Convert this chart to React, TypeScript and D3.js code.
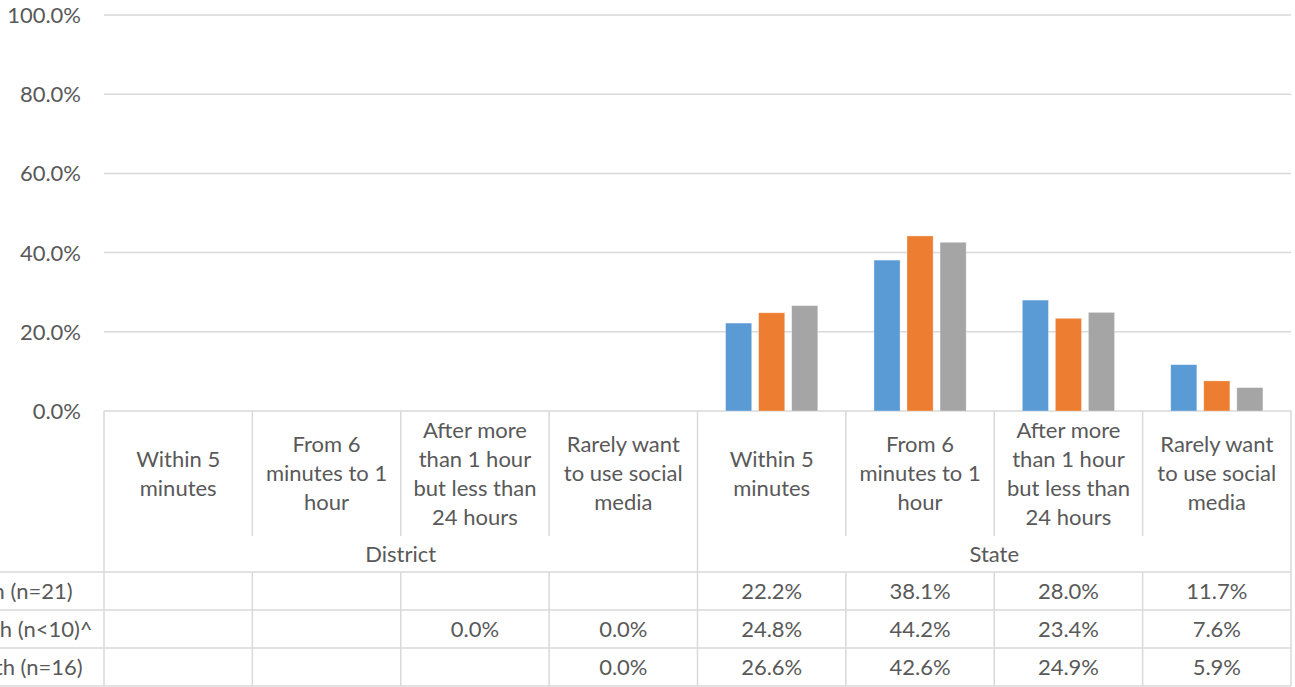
import React from "react";
import * as d3 from "d3";

const groups = ["District", "State"];
const categoryLines = [
  ["Within 5", "minutes"],
  ["From 6", "minutes to 1", "hour"],
  ["After more", "than 1 hour", "but less than", "24 hours"],
  ["Rarely want", "to use social", "media"],
];
const seriesNames = ["All children (n=21)", "Older youth (n<10)^", "Other youth (n=16)"];
// values per column: District x4 then State x4 (null = blank cell)
const series1Values: (number | null)[] = [null, null, null, null, 22.2, 38.1, 28.0, 11.7];
const series2Values: (number | null)[] = [null, null, 0.0, 0.0, 24.8, 44.2, 23.4, 7.6];
const series3Values: (number | null)[] = [null, null, null, 0.0, 26.6, 42.6, 24.9, 5.9];
const seriesColors = ["#5B9BD5", "#ED7D31", "#A5A5A5"];
const yTicks = [0, 20, 40, 60, 80, 100];

const W = 1295;
const H = 687;
const FONT = "Lato, 'Open Sans', sans-serif";
const TEXT = "#595959";
const GRID = "#D9D9D9";

export default function App() {
  const allSeries = [series1Values, series2Values, series3Values];
  const columns = groups.flatMap((g) => categoryLines.map((_, i) => `${g}-${i}`));
  const plotLeft = 104;
  const plotRight = 1291;
  const plotTop = 15;
  const plotBottom = 411;
  const catBottom = 536;
  const groupBottom = 572;
  const rowH = 38;

  const x0 = d3.scaleBand<string>().domain(columns).range([plotLeft, plotRight]).padding(0);
  const x1 = d3
    .scaleBand<string>()
    .domain(seriesNames)
    .range([0, x0.bandwidth()])
    .paddingInner(0.21)
    .paddingOuter(0.85);
  const y = d3.scaleLinear().domain([0, 100]).range([plotBottom, plotTop]);

  const lineH = 29;
  const catCenter = (plotBottom + catBottom) / 2;
  const fs = 22;

  const colEdges = columns.map((c) => x0(c)!).concat([plotRight]);

  return (
    <div style={{ position: "absolute", left: 0, top: 0, width: W, height: H, overflow: "hidden" }}>
      <svg width={W} height={H} style={{ display: "block" }} fontFamily={FONT}>
        <rect width={W} height={H} fill="#fff" />
        {/* gridlines */}
        {yTicks.map((t) => (
          <g key={t}>
            <line x1={plotLeft} x2={plotRight} y1={y(t)} y2={y(t)} stroke={GRID} strokeWidth={1.5} />
            <text x={81} y={y(t) + 8} textAnchor="end" fontSize={fs} fill={TEXT}>
              {t.toFixed(1)}%
            </text>
          </g>
        ))}
        {/* bars */}
        {allSeries.map((vals, si) =>
          vals.map((v, ci) =>
            v === null ? null : (
              <rect
                key={`${si}-${ci}`}
                x={x0(columns[ci])! + x1(seriesNames[si])!}
                y={y(v)}
                width={x1.bandwidth()}
                height={y(0) - y(v)}
                fill={seriesColors[si]}
                stroke="#fff"
                strokeOpacity={0.4}
                strokeWidth={0.75}
              />
            )
          )
        )}
        {/* category area vertical lines */}
        {colEdges.map((xe, i) => (
          <line
            key={`cv${i}`}
            x1={xe}
            x2={xe}
            y1={plotBottom}
            y2={i % 4 === 0 ? groupBottom : catBottom}
            stroke={GRID}
            strokeWidth={1.5}
          />
        ))}
        {/* category labels */}
        {columns.map((c, ci) => {
          const lines = categoryLines[ci % 4];
          const cx = x0(c)! + x0.bandwidth() / 2;
          return (
            <text key={`cl${ci}`} textAnchor="middle" fontSize={fs} fill={TEXT}>
              {lines.map((ln, li) => (
                <tspan key={li} x={cx} y={catCenter + 7.5 + (li - (lines.length - 1) / 2) * lineH}>
                  {ln}
                </tspan>
              ))}
            </text>
          );
        })}
        {/* group labels */}
        {groups.map((g, gi) => {
          const start = x0(columns[gi * 4])!;
          const end = gi === groups.length - 1 ? plotRight : x0(columns[gi * 4 + 4])!;
          return (
            <text
              key={g}
              x={(start + end) / 2}
              y={(catBottom + groupBottom) / 2 + 7.5}
              textAnchor="middle"
              fontSize={fs}
              fill={TEXT}
            >
              {g}
            </text>
          );
        })}
        {/* data table */}
        {[0, 1, 2, 3].map((r) => (
          <line
            key={`th${r}`}
            x1={0}
            x2={plotRight}
            y1={groupBottom + r * rowH}
            y2={groupBottom + r * rowH}
            stroke={GRID}
            strokeWidth={1.5}
          />
        ))}
        {colEdges.map((xe, i) => (
          <line
            key={`tv${i}`}
            x1={xe}
            x2={xe}
            y1={groupBottom}
            y2={groupBottom + 3 * rowH}
            stroke={GRID}
            strokeWidth={1.5}
          />
        ))}
        {seriesNames.map((name, si) => (
          <g key={name}>
            <text x={-103} y={groupBottom + si * rowH + rowH / 2 + 7.5} fontSize={fs} fill={TEXT}>
              {name}
            </text>
            {allSeries[si].map((v, ci) =>
              v === null ? null : (
                <text
                  key={ci}
                  x={x0(columns[ci])! + x0.bandwidth() / 2}
                  y={groupBottom + si * rowH + rowH / 2 + 7.5}
                  textAnchor="middle"
                  fontSize={fs}
                  fill={TEXT}
                >
                  {v.toFixed(1)}%
                </text>
              )
            )}
          </g>
        ))}
      </svg>
    </div>
  );
}
